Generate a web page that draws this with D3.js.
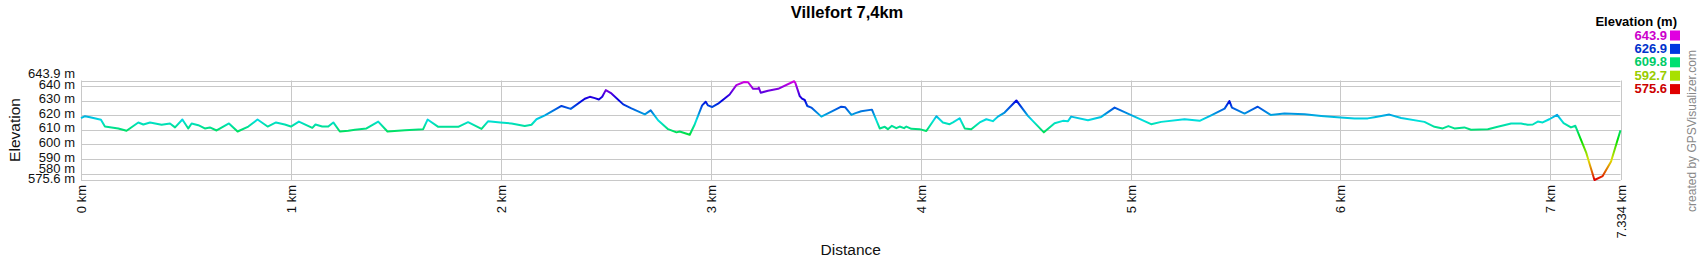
<!DOCTYPE html>
<html lang="en">

<head>
    <meta charset="UTF-8">
    <title>Villefort 7,4km</title>
    <style>
        body { margin: 0; background: #fff; }
        text { font-family: Arial, "Liberation Sans", sans-serif; }
    </style>
</head>

<body>
    <script type='text/javascript' src='https://d3js.org/d3.v7.min.js'></script>

    <script>
        // track profile (km, m)
        const distKm = [0.000, 0.019, 0.043, 0.095, 0.114, 0.146, 0.178, 0.217, 0.273, 0.297, 0.329, 0.384, 0.424, 0.448, 0.483, 0.511, 0.527, 0.559, 0.590, 0.614,
            0.646, 0.705, 0.746, 0.797, 0.841, 0.889, 0.929, 0.971, 1.000, 1.038, 1.102, 1.117, 1.149, 1.178, 1.202, 1.233, 1.273, 1.305, 1.360, 1.416,
            1.460, 1.543, 1.630, 1.651, 1.702, 1.797, 1.844, 1.908, 1.940, 1.998, 2.051, 2.114, 2.146, 2.170, 2.210, 2.289, 2.333, 2.400, 2.424, 2.448,
            2.467, 2.483, 2.500, 2.527, 2.583, 2.622, 2.686, 2.714, 2.749, 2.797, 2.837, 2.852, 2.900, 2.924, 2.959, 2.976, 2.987, 3.006, 3.035, 3.090,
            3.122, 3.159, 3.178, 3.202, 3.225, 3.229, 3.238, 3.273, 3.321, 3.397, 3.403, 3.424, 3.435, 3.448, 3.460, 3.479, 3.527, 3.575, 3.622, 3.641,
            3.670, 3.690, 3.717, 3.768, 3.805, 3.829, 3.844, 3.863, 3.884, 3.900, 3.921, 3.932, 3.956, 3.995, 4.027, 4.075, 4.106, 4.138, 4.154, 4.186,
            4.210, 4.241, 4.281, 4.313, 4.344, 4.368, 4.400, 4.456, 4.511, 4.587, 4.638, 4.678, 4.702, 4.717, 4.797, 4.860, 4.924, 4.995, 5.098, 5.146,
            5.257, 5.329, 5.384, 5.448, 5.471, 5.483, 5.543, 5.606, 5.667, 5.733, 5.829, 5.908, 6.000, 6.067, 6.130, 6.162, 6.233, 6.289, 6.400, 6.448,
            6.487, 6.514, 6.543, 6.590, 6.622, 6.702, 6.749, 6.813, 6.860, 6.892, 6.916, 6.940, 6.963, 6.995, 7.032, 7.063, 7.098, 7.119, 7.170, 7.210,
            7.249, 7.289, 7.334];
        const elevM = [618.0, 619.4, 618.7, 616.9, 612.3, 611.7, 611.0, 609.4, 615.1, 613.7, 615.1, 613.5, 614.4, 611.7, 617.1, 611.0, 614.4, 613.2, 611.0, 611.7,
            609.6, 614.4, 608.9, 612.3, 617.1, 612.3, 615.1, 613.7, 612.3, 615.7, 611.4, 613.7, 612.3, 612.3, 615.1, 608.9, 609.4, 610.1, 611.0, 615.7,
            608.9, 609.8, 610.5, 617.1, 612.1, 612.1, 615.3, 610.7, 616.0, 615.1, 614.4, 612.6, 613.5, 617.3, 620.0, 626.4, 624.4, 631.4, 632.7, 631.8,
            630.9, 632.7, 637.3, 635.0, 627.5, 624.8, 620.7, 623.4, 616.6, 610.5, 608.3, 608.9, 606.7, 613.9, 626.8, 629.3, 626.8, 625.7, 628.0, 634.3,
            640.7, 642.9, 642.7, 638.2, 638.2, 639.0, 635.5, 636.8, 638.2, 643.4, 642.3, 633.2, 631.4, 630.5, 626.4, 625.3, 619.1, 622.5, 625.9, 625.5,
            620.3, 621.5, 622.8, 623.9, 611.0, 612.1, 610.5, 612.8, 611.2, 612.3, 611.2, 612.3, 610.7, 610.5, 609.2, 619.4, 615.1, 613.9, 615.1, 618.0,
            611.0, 610.5, 615.1, 617.3, 616.0, 619.1, 621.9, 630.2, 619.6, 608.3, 614.6, 616.2, 616.0, 619.1, 616.6, 618.9, 625.3, 620.7, 613.9, 615.5,
            617.3, 616.2, 620.0, 624.6, 629.8, 625.3, 621.2, 625.9, 620.3, 621.2, 620.7, 619.6, 618.5, 617.8, 617.9, 618.7, 620.5, 618.2, 615.5, 612.1,
            611.0, 612.6, 611.0, 611.7, 610.1, 610.5, 612.1, 614.4, 614.4, 613.5, 613.7, 615.7, 615.1, 617.3, 620.3, 614.6, 611.7, 612.8, 594.6, 575.6,
            578.3, 588.3, 609.8];

        const yTicks = [575.6, 580, 590, 600, 610, 620, 630, 640, 643.9];
        const xTicks = [0, 1, 2, 3, 4, 5, 6, 7, 7.334];
        const legendValues = [643.9, 626.9, 609.8, 592.7, 575.6];

        const minE = 575.6, maxE = 643.9, totalKm = 7.334;

        const svg = d3.select('body').append('svg').attr('width', 1700).attr('height', 260);

        const x = d3.scaleLinear().domain([0, totalKm]).range([81, 1620.5]);
        const y = d3.scaleLinear().domain([minE, maxE]).range([180, 80.5]);

        // red -> yellow-green -> green -> blue -> magenta, by elevation
        const hueOf = e => 300 * (e - minE) / (maxE - minE);
        const colorOf = e => d3.hsl(hueOf(e), 1, 0.44).formatHex();

        // gridlines
        svg.append('g').selectAll('line')
            .data(yTicks)
            .enter().append('line')
            .attr('x1', x(0)).attr('x2', x(totalKm))
            .attr('y1', d => Math.round(y(d)) + 0.5).attr('y2', d => Math.round(y(d)) + 0.5)
            .style('stroke', '#c8c8c8');

        svg.append('g').selectAll('line')
            .data(xTicks)
            .enter().append('line')
            .attr('x1', d => Math.round(x(d)) + 0.5).attr('x2', d => Math.round(x(d)) + 0.5)
            .attr('y1', y(maxE)).attr('y2', y(minE))
            .style('stroke', '#c8c8c8');

        // y tick labels, the crowded ones pushed up a bit
        const nudge = { 643.9: -5, 580: -3 };
        svg.append('g').selectAll('text')
            .data(yTicks)
            .enter().append('text')
            .attr('x', 75)
            .attr('y', d => y(d) + 2.5 + (nudge[d] || 0))
            .attr('text-anchor', 'end')
            .style('font-size', '13px')
            .style('fill', '#111')
            .text(d => d + ' m');

        // x tick labels, rotated
        svg.append('g').selectAll('text')
            .data(xTicks)
            .enter().append('text')
            .attr('transform', d => `translate(${x(d) + 5},185) rotate(-90)`)
            .attr('text-anchor', 'end')
            .style('font-size', '13px')
            .style('fill', '#111')
            .text(d => d + ' km');

        // elevation line, coloured with a vertical gradient
        const grad = svg.append('defs').append('linearGradient')
            .attr('id', 'elevGrad')
            .attr('gradientUnits', 'userSpaceOnUse')
            .attr('x1', 0).attr('x2', 0)
            .attr('y1', y(minE)).attr('y2', y(maxE));
        grad.selectAll('stop')
            .data(d3.range(0, 31).map(i => minE + (maxE - minE) * i / 30))
            .enter().append('stop')
            .attr('offset', d => (d - minE) / (maxE - minE))
            .attr('stop-color', d => colorOf(d));

        const line = d3.line()
            .x(d => x(d[0]))
            .y(d => y(d[1]));

        svg.append('path')
            .datum(distKm.map((d, i) => [d, elevM[i]]))
            .attr('d', line)
            .style('fill', 'none')
            .style('stroke', 'url(#elevGrad)')
            .style('stroke-width', 2)
            .style('stroke-linejoin', 'round');

        // titles
        svg.append('text')
            .attr('x', 847).attr('y', 17.5)
            .attr('text-anchor', 'middle')
            .style('font-size', '16.5px')
            .style('font-weight', 'bold')
            .text('Villefort 7,4km');

        svg.append('text')
            .attr('x', (x(0) + x(totalKm)) / 2).attr('y', 255)
            .attr('text-anchor', 'middle')
            .style('font-size', '15.5px')
            .style('fill', '#111')
            .text('Distance');

        svg.append('text')
            .attr('transform', 'translate(20,130) rotate(-90)')
            .attr('text-anchor', 'middle')
            .style('font-size', '15.5px')
            .style('fill', '#111')
            .text('Elevation');

        // legend
        svg.append('text')
            .attr('x', 1677).attr('y', 26)
            .attr('text-anchor', 'end')
            .style('font-size', '13px')
            .style('font-weight', 'bold')
            .text('Elevation (m)');

        const leg = svg.append('g').selectAll('g')
            .data(legendValues)
            .enter().append('g');
        leg.append('text')
            .attr('x', 1667)
            .attr('y', (d, i) => 39.5 + i * 13.4)
            .attr('text-anchor', 'end')
            .style('font-size', '13px')
            .style('font-weight', 'bold')
            .style('fill', d => d3.hsl(hueOf(d), 1, 0.4).formatHex())
            .text(d => d.toFixed(1));
        leg.append('rect')
            .attr('x', 1670)
            .attr('y', (d, i) => 30.5 + i * 13.4)
            .attr('width', 10).attr('height', 10)
            .style('fill', d => colorOf(d));

        svg.append('text')
            .attr('transform', 'translate(1696,131) rotate(-90)')
            .attr('text-anchor', 'middle')
            .style('font-size', '12px')
            .style('fill', '#888')
            .text('created by GPSVisualizer.com');
    </script>
</body>

</html>
